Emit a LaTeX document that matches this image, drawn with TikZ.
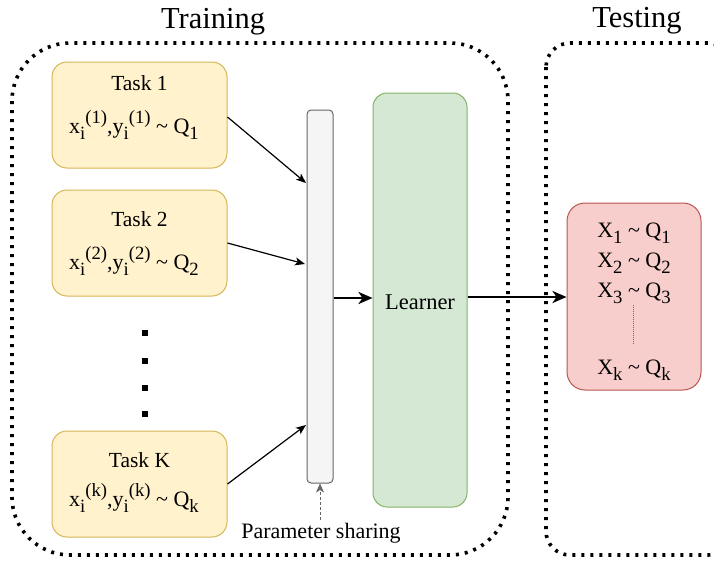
\documentclass[tikz,border=0pt]{standalone}
\usepackage{fontspec}
\usepackage{graphicx}
\setmainfont{Liberation Serif}
\newfontfamily\tnr{Liberation Serif}
\usetikzlibrary{arrows.meta,calc}
\definecolor{yfill}{HTML}{FFF2CC}
\definecolor{ydraw}{HTML}{D6B656}
\definecolor{gfill}{HTML}{D5E8D4}
\definecolor{gdraw}{HTML}{82B366}
\definecolor{rfill}{HTML}{F8CECC}
\definecolor{rdraw}{HTML}{B85450}
\definecolor{bfill}{HTML}{F5F5F5}
\definecolor{bdraw}{HTML}{666666}
\newcommand\lo[1]{\raisebox{-0.3em}{\scalebox{0.85}{#1}}}
\newcommand\hi[1]{\raisebox{0.45em}{\scalebox{0.85}{#1}}}
\begin{document}
\begin{tikzpicture}[x=1pt,y=-1pt,
  container/.style={line width=3.6pt, dash pattern=on 3pt off 6pt},
  taskbox/.style={draw=ydraw, fill=yfill, line width=1pt, rounded corners=15pt,
    minimum width=175pt, minimum height=106pt, inner sep=0pt},
  txt/.style={anchor=base, inner sep=0pt, font=\tnr\fontsize{21.5}{24}\selectfont},
  mtxt/.style={anchor=base, inner sep=0pt, font=\tnr\fontsize{22}{25}\selectfont},
  title/.style={anchor=base, inner sep=0pt, font=\tnr\fontsize{30.5}{34}\selectfont},
  thin arrow/.style={line width=1.2pt, -{Stealth[length=10pt,width=8pt,inset=2.5pt]}},
  thick arrow/.style={line width=2.5pt, -{Stealth[length=14pt,width=12pt,inset=4pt]}},
  dotmark/.style={fill=black, minimum size=6pt, inner sep=0pt}
]
\useasboundingbox (0,0) rectangle (714,568);
\clip (0,0) rectangle (714,568);

% containers
\draw[container, rounded corners=58pt] (12,43) rectangle (508,555);
\draw[container, rounded corners=24pt] (546,43) rectangle (732,555);
\node[title] (trainlbl) at (213,28) {Training};
\node[title] (testlbl) at (637,27) {Testing};

% task boxes
\node[taskbox] (t1) at (139.5,115) {};
\node[taskbox] (t2) at (139.5,243) {};
\node[taskbox] (tk) at (139.5,484) {};
\node[txt] (t1a) at (139.5,90) {Task 1};
\node[mtxt] (t1b) at (134,133) {x\lo{i}\hi{(1)},y\lo{i}\hi{(1)} \textasciitilde\ Q\lo{1}};
\node[txt] (t2a) at (139.5,226) {Task 2};
\node[mtxt] (t2b) at (134,269) {x\lo{i}\hi{(2)},y\lo{i}\hi{(2)} \textasciitilde\ Q\lo{2}};
\node[txt] (tka) at (139.5,467) {Task K};
\node[mtxt] (tkb) at (134,506) {x\lo{i}\hi{(k)},y\lo{i}\hi{(k)} \textasciitilde\ Q\lo{k}};

% vertical dots
\node[dotmark] (d1) at (145,333) {};
\node[dotmark] (d2) at (145,361) {};
\node[dotmark] (d3) at (145,388) {};
\node[dotmark] (d4) at (145,414) {};

% shared bar
\node[draw=bdraw, fill=bfill, line width=1pt, rounded corners=4pt,
  minimum width=26pt, minimum height=373pt, inner sep=0pt] (bar) at (320,296.5) {};
\coordinate (b1) at (306,183);
\coordinate (b2) at (305,264);
\coordinate (bk) at (306,425);
\draw[thin arrow] (t1.east) ++(0,2) -- (b1);
\draw[thin arrow] (t2.east) -- (b2);
\draw[thin arrow] (tk.east) -- (bk);

% learner
\node[draw=gdraw, fill=gfill, line width=1pt, rounded corners=14pt,
  minimum width=94pt, minimum height=414pt, inner sep=0pt] (learner) at (420,300) {};
\node[txt, font=\tnr\fontsize{22.5}{25}\selectfont] (learnlbl) at (420,309) {Learner};
\draw[thick arrow] (bar.east |- 0,298) -- (learner.west |- 0,298);

% testing box
\node[draw=rdraw, fill=rfill, line width=1pt, rounded corners=18pt,
  minimum width=134pt, minimum height=187pt, inner sep=0pt] (test) at (634,296.5) {};
\draw[thick arrow] (learner.east |- 0,297) -- (test.west |- 0,297);
\node[mtxt] (x1) at (634,237) {X\lo{1} \textasciitilde\ Q\lo{1}};
\node[mtxt] (x2) at (634,267) {X\lo{2} \textasciitilde\ Q\lo{2}};
\node[mtxt] (x3) at (634,297) {X\lo{3} \textasciitilde\ Q\lo{3}};
\node[mtxt] (xk) at (634,374) {X\lo{k} \textasciitilde\ Q\lo{k}};
\draw[bdraw, line width=0.7pt, dash pattern=on 1pt off 1pt] (633,305) -- (633,344);

% parameter sharing
\node[txt, font=\tnr\fontsize{22}{25}\selectfont] (ps) at (321,538) {Parameter sharing};
\draw[bdraw, line width=1pt, dash pattern=on 2.5pt off 2.5pt,
  -{Stealth[length=9pt,width=8pt,inset=2.5pt]}] (ps.north -| bar.south) ++(0,-3) -- (bar.south);
\end{tikzpicture}
\end{document}
